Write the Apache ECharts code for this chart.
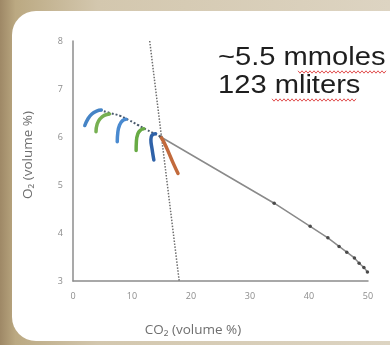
<!DOCTYPE html>
<html><head><meta charset="utf-8">
<script src="https://cdn.jsdelivr.net/npm/echarts@6/dist/echarts.min.js"></script>
<style>
html,body{margin:0;padding:0;width:390px;height:345px;overflow:hidden;}
body{background:linear-gradient(to right,#9e8866 0%,#bba982 4%,#d3c7ae 25%,#ddd4c2 100%);position:relative;}
#panel{position:absolute;left:12px;top:11px;width:400px;height:330px;background:#fff;border-radius:24px;}
#chart{position:absolute;left:0;top:0;width:390px;height:345px;}
</style></head><body><div id="panel"></div><div id="chart"></div>
<script>
// Axis ticks
const xTicks = [0, 10, 20, 30, 40, 50];
const yTicks = [3, 4, 5, 6, 7, 8];

// Colored curves (CO2, O2)
const curve1 = [[2.0,6.24],[2.5,6.37],[3.2,6.48],[4.0,6.54],[4.8,6.56]];
const curve2 = [[3.9,6.11],[4.1,6.27],[4.6,6.38],[5.3,6.45],[6.2,6.48]];
const curve3 = [[7.5,5.90],[7.6,6.10],[7.9,6.25],[8.4,6.34],[9.0,6.37]];
const curve4 = [[10.7,5.72],[10.75,5.92],[11.0,6.07],[11.4,6.14],[12.0,6.17]];
const curve5 = [[13.7,5.52],[13.4,5.75],[13.2,5.95],[13.4,6.04],[14.0,6.07]];
const curve6 = [[15.0,5.98],[15.5,5.87],[16.2,5.68],[17.0,5.45],[17.8,5.24]];
// Dark dotted envelope along the curve tops
const envelope = [[4.6,6.56],[6.3,6.50],[8.0,6.44],[9.5,6.35],[11.0,6.25],[12.5,6.15],[14.0,6.06],[14.9,6.0]];
// Mixing line with markers
const mixLine = [[14.9,6.0],[34.1,4.62],[40.2,4.14],[43.2,3.9],[45.1,3.72],[46.4,3.6],[47.7,3.48],[48.5,3.37],[49.3,3.28],[49.9,3.19]];
// Steep dotted line
const steepLine = [[13.0,8.0],[18.0,3.0]];

const chart = echarts.init(document.getElementById('chart'), null, {renderer:'canvas'});

function arc(data, color){
  return {type:'line', data:data, smooth:true, symbol:'none', z:5,
    lineStyle:{color:color, width:3.5, cap:'round'}};
}

// wavy underline points (decoration)
function squiggle(x0, x1, y){
  const pts = [];
  let up = true;
  for (let x = x0; x <= x1; x += 2){ pts.push([x, y + (up ? -1.2 : 1.2)]); up = !up; }
  return pts;
}

const axisCol = '#8c8c8c';
chart.setOption({
  animation:false,
  grid:{left:73, right:22, top:41, bottom:64},
  xAxis:{type:'value', min:xTicks[0], max:xTicks[xTicks.length-1], interval:xTicks[1]-xTicks[0],
    axisLine:{show:true, lineStyle:{color:axisCol, width:1.5}},
    axisTick:{show:false}, splitLine:{show:false},
    axisLabel:{color:axisCol, fontSize:9, margin:11, fontFamily:'Open Sans'}},
  yAxis:{type:'value', min:yTicks[0], max:yTicks[yTicks.length-1], interval:yTicks[1]-yTicks[0],
    axisLine:{show:true, lineStyle:{color:axisCol, width:1.5}},
    axisTick:{show:false}, splitLine:{show:false},
    axisLabel:{color:axisCol, fontSize:9, margin:10, fontFamily:'Open Sans'}},
  series:[
    {type:'line', data:steepLine, symbol:'none', z:2,
      lineStyle:{color:'#6e6e6e', width:1.5, type:'dotted'}},
    {type:'line', data:mixLine, symbol:'circle', symbolSize:3.5, z:3,
      itemStyle:{color:'#4a4a4a'},
      lineStyle:{color:'#8a8a8a', width:1.5}},
    {type:'line', data:envelope, smooth:true, symbol:'none', z:4,
      lineStyle:{color:'#4b5a6d', width:2, type:'dotted'}},
    arc(curve1, '#4584c6'),
    arc(curve2, '#77b052'),
    arc(curve3, '#4a8ad0'),
    arc(curve4, '#68ab45'),
    arc(curve5, '#2f62a8'),
    arc(curve6, '#c26a3c')
  ],
  graphic:[
    {type:'text', x:218, y:58, scaleX:1.12, style:{text:'~5.5 mmoles', font:'26px "Liberation Sans", Arial, sans-serif', fill:'#1e1e1e', verticalAlign:'middle'}},
    {type:'text', x:218, y:86, scaleX:1.12, style:{text:'123 mliters', font:'26px "Liberation Sans", Arial, sans-serif', fill:'#1e1e1e', verticalAlign:'middle'}},
    {type:'polyline', shape:{points:squiggle(298,386,72)}, style:{stroke:'#e05050', lineWidth:1, fill:null}},
    {type:'polyline', shape:{points:squiggle(272,357,100)}, style:{stroke:'#e05050', lineWidth:1, fill:null}},
    {type:'text', x:193, y:330, style:{text:'CO₂ (volume %)', font:'13.5px "Open Sans", sans-serif', fill:'#6f6f6f', align:'center', verticalAlign:'middle'}},
    {type:'text', x:28, y:155, rotation:Math.PI/2, style:{text:'O₂ (volume %)', font:'13.5px "Open Sans", sans-serif', fill:'#6f6f6f', align:'center', verticalAlign:'middle'}}
  ]
});
</script></body></html>
